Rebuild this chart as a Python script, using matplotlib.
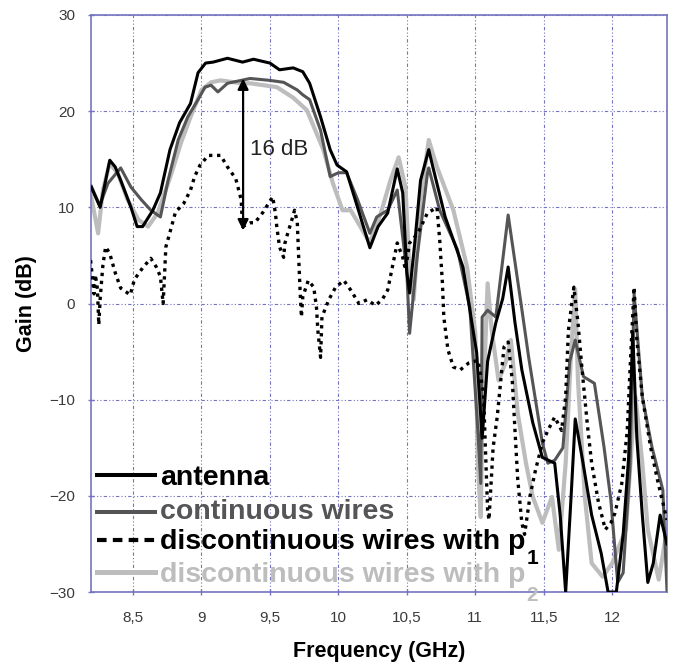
import matplotlib
matplotlib.use("Agg")
import matplotlib.pyplot as plt

plt.rcParams['font.family'] = ['Liberation Sans', 'DejaVu Sans']

# antenna alone
ant_f = [8.195, 8.26, 8.33, 8.37, 8.41, 8.485, 8.53, 8.57, 8.645, 8.70,
         8.77, 8.84, 8.92, 8.975, 9.03, 9.085, 9.19, 9.30, 9.38, 9.50,
         9.57, 9.67, 9.74, 9.79, 9.87, 9.94, 9.99, 10.06, 10.14, 10.23,
         10.29, 10.36, 10.43, 10.47, 10.50, 10.52, 10.56, 10.60, 10.66, 10.69,
         10.78, 10.91, 11.01, 11.05, 11.09, 11.15, 11.20, 11.24, 11.29, 11.34,
         11.42, 11.49, 11.58, 11.62, 11.66, 11.70, 11.73, 11.78, 11.85, 11.92,
         11.97, 12.03, 12.08, 12.12, 12.15, 12.18, 12.22, 12.26, 12.30, 12.35,
         12.40]
ant_g = [12.1, 10.0, 14.9, 14.2, 12.8, 10.0, 8.0, 8.0, 9.7, 11.5,
         16.0, 18.8, 20.8, 24.0, 25.0, 25.1, 25.5, 25.1, 25.4, 25.0,
         24.3, 24.5, 24.1, 22.9, 19.4, 16.0, 14.4, 13.7, 10.0, 5.8,
         8.0, 9.4, 14.0, 11.5, 3.2, 1.1, 6.6, 12.8, 16.0, 14.2,
         9.0, 3.8, -5.1, -14.0, -6.0, -2.0, 0.5, 3.8, -2.0, -6.9,
         -12.4, -16.0, -16.6, -22.0, -30.0, -20.0, -12.0, -16.0, -22.0, -26.0,
         -30.0, -30.0, -24.0, -16.0, -3.0, -14.0, -22.0, -29.0, -27.0, -22.0,
         -25.0]

# continuous wires
cw_f = [8.195, 8.257, 8.317, 8.41, 8.485, 8.56, 8.63, 8.70, 8.756, 8.83,
        8.90, 8.975, 9.026, 9.07, 9.12, 9.19, 9.29, 9.355, 9.50, 9.60,
        9.70, 9.74, 9.79, 9.87, 9.94, 10.0, 10.06, 10.14, 10.23, 10.28,
        10.36, 10.43, 10.50, 10.52, 10.575, 10.65, 10.66, 10.74, 10.87, 10.96,
        11.02, 11.04, 11.05, 11.09, 11.15, 11.24, 11.34, 11.39, 11.49, 11.53,
        11.58, 11.64, 11.69, 11.73, 11.79, 11.87, 11.94, 11.99, 12.04, 12.08,
        12.13, 12.16, 12.22, 12.29, 12.37, 12.40]
cw_g = [12.2, 10.2, 12.5, 14.1, 12.1, 10.8, 9.7, 9.0, 12.8, 17.0,
        19.4, 21.2, 22.5, 22.7, 22.0, 22.9, 23.2, 23.4, 23.2, 23.0,
        22.2, 21.7, 21.2, 18.0, 13.2, 13.6, 13.6, 10.8, 7.3, 9.0,
        9.7, 11.8, 3.2, -3.1, 4.8, 13.5, 14.1, 9.7, 5.6, -0.4,
        -13.5, -18.7, -1.4, -0.7, -1.4, 9.2, -0.6, -5.6, -14.5, -16.6,
        -16.3, -15.0, -6.0, -3.8, -7.6, -8.3, -14.9, -20.4, -29.0, -28.0,
        -17.0, 1.0, -9.7, -14.9, -19.4, -29.8]

# discontinuous wires with p1
p1_f = [8.19, 8.205, 8.215, 8.225, 8.24, 8.25, 8.26, 8.28, 8.30, 8.33,
        8.37, 8.41, 8.48, 8.51, 8.57, 8.63, 8.67, 8.70, 8.72, 8.74,
        8.76, 8.81, 8.87, 8.92, 8.95, 8.99, 9.05, 9.14, 9.19, 9.25,
        9.29, 9.30, 9.36, 9.39, 9.45, 9.52, 9.54, 9.55, 9.57, 9.60,
        9.61, 9.63, 9.66, 9.68, 9.70, 9.71, 9.72, 9.73, 9.74, 9.78,
        9.82, 9.84, 9.85, 9.87, 9.88, 9.93, 9.98, 10.04, 10.09, 10.15,
        10.21, 10.27, 10.32, 10.36, 10.40, 10.43, 10.47, 10.49, 10.52, 10.58,
        10.65, 10.72, 10.74, 10.76, 10.77, 10.80, 10.84, 10.89, 10.95, 11.02,
        11.06, 11.07, 11.09, 11.10, 11.13, 11.16, 11.21, 11.24, 11.27, 11.29,
        11.31, 11.34, 11.36, 11.40, 11.44, 11.49, 11.53, 11.58, 11.63, 11.66,
        11.68, 11.72, 11.75, 11.78, 11.82, 11.85, 11.90, 11.95, 11.99, 12.02,
        12.07, 12.11, 12.13, 12.16, 12.18, 12.22, 12.28, 12.33, 12.37, 12.40]
p1_g = [4.5, 2.5, 1.0, 3.0, 1.5, -2.2, 0.5, 4.0, 5.9, 5.2,
        3.2, 1.6, 0.9, 2.5, 3.7, 4.7, 3.8, 2.8, 0.0, 5.9,
        6.9, 9.5, 10.4, 11.8, 13.2, 14.4, 15.4, 15.4, 14.2, 13.0,
        10.8, 8.0, 8.4, 8.4, 9.5, 11.1, 9.4, 8.0, 5.9, 4.8,
        6.3, 7.3, 8.7, 9.7, 8.4, 4.8, 1.4, -1.4, 0.7, 2.4,
        1.7, -0.4, -2.8, -5.6, -1.4, 0.4, 1.7, 2.4, 1.4, 0.0,
        0.4, -0.2, 0.4, 1.4, 4.2, 6.3, 4.8, 3.5, 6.3, 7.3,
        9.4, 10.0, 6.6, 2.1, -1.4, -4.8, -6.6, -6.9, -6.2, -5.9,
        -9.3, -13.5, -21.5, -22.5, -15.0, -11.8, -4.5, -4.0, -8.0, -13.2,
        -18.3, -22.8, -24.0, -20.0, -17.3, -14.5, -13.2, -11.8, -13.2, -9.7,
        -2.8, 1.7, -2.0, -6.9, -12.8, -16.6, -20.7, -23.5, -22.8, -21.8,
        -18.7, -13.2, -6.9, 1.7, -3.8, -9.7, -14.9, -18.3, -20.7, -22.5]

# discontinuous wires with p2
p2_f = [8.195, 8.245, 8.28, 8.33, 8.39, 8.46, 8.54, 8.61, 8.68, 8.78,
        8.85, 8.92, 9.0, 9.07, 9.14, 9.29, 9.355, 9.55, 9.67, 9.77,
        9.89, 9.96, 10.03, 10.09, 10.16, 10.23, 10.31, 10.38, 10.44, 10.49,
        10.52, 10.55, 10.60, 10.66, 10.72, 10.84, 10.94, 11.0, 11.02, 11.04,
        11.05, 11.09, 11.12, 11.17, 11.22, 11.26, 11.31, 11.37, 11.42, 11.49,
        11.56, 11.61, 11.66, 11.70, 11.73, 11.75, 11.80, 11.85, 11.93, 12.0,
        12.10, 12.15, 12.17, 12.22, 12.26, 12.34, 12.40]
p2_g = [11.1, 7.3, 11.8, 14.6, 13.5, 10.8, 8.7, 8.0, 9.4, 13.5,
        16.7, 19.4, 22.2, 23.0, 23.2, 22.9, 22.9, 22.5, 21.4, 20.1,
        16.0, 12.5, 9.7, 9.7, 8.0, 6.3, 9.4, 12.8, 15.2, 12.1,
        3.2, 0.4, 10.8, 17.0, 14.2, 9.7, 3.8, -3.1, -17.0, -22.2,
        -13.2, 2.1, -2.8, -8.0, -6.2, -3.8, -11.4, -16.6, -20.1, -22.8,
        -20.1, -25.6, -16.6, -5.0, 1.5, -8.0, -20.1, -27.0, -28.4, -27.0,
        -23.5, -13.2, -9.7, -16.6, -23.5, -28.7, -23.5]

xticks = [8.5, 9, 9.5, 10, 10.5, 11, 11.5, 12]
xticklabels = ['8,5', '9', '9,5', '10', '10,5', '11', '11,5', '12']
yticks = [-30, -20, -10, 0, 10, 20, 30]

dark = '#555557'
light = '#bdbdbd'
frame = '#7474c0'

fig = plt.figure(figsize=(6.75, 6.66), dpi=100)
ax = fig.add_axes([0.1348, 0.111, 0.8533, 0.8665])

ax.plot(p2_f, p2_g, color=light, lw=3.0, zorder=2, solid_joinstyle='round')
ax.plot(cw_f, cw_g, color=dark, lw=2.2, zorder=3, solid_joinstyle='round')
ax.plot(ant_f, ant_g, color='black', lw=2.2, zorder=4, solid_joinstyle='round')
ax.plot(p1_f, p1_g, color='black', lw=2.4, ls=(0, (1, 1.4)), zorder=5)

ax.set_xlim(8.193, 12.40)
ax.set_ylim(-30, 30)
ax.set_xticks(xticks)
ax.set_xticklabels(xticklabels)
ax.set_yticks(yticks)
ax.tick_params(axis='both', labelsize=11, labelcolor='#3a3a3a', color=frame,
               direction='inout', length=5, width=1)
ax.tick_params(axis='x', pad=11)
ax.tick_params(axis='y', pad=9)
ax.grid(True, color=frame, lw=0.8, ls=(0, (3, 2, 1, 2, 1, 2)))
for s in ax.spines.values():
    s.set_color(frame)
    s.set_linewidth(1.2)

ax.set_xlabel('Frequency (GHz)', fontsize=15.5, fontweight='bold', labelpad=12)
ax.set_ylabel('Gain (dB)', fontsize=15.5, fontweight='bold', labelpad=9)

# 16 dB arrow
ax.annotate('', xy=(9.304, 7.6), xytext=(9.304, 23.4),
            arrowprops=dict(arrowstyle='<|-|>', color='black', lw=1.6,
                            mutation_scale=16, shrinkA=0, shrinkB=0), zorder=6)
ax.text(9.355, 16.0, '16 dB', fontsize=16, va='center', ha='left', color='#222222', zorder=6)

# hand-made legend
entries = [('antenna', 'black', 'black', '-', 2.9),
           ('continuous wires', dark, dark, '-', 2.9),
           ('discontinuous wires with p', 'black', 'black', (0, (2.3, 1.5)), 3.0),
           ('discontinuous wires with p', light, light, '-', 3.6)]
handle_y = [0.203, 0.139, 0.090, 0.035]
text_y = [0.185, 0.127, 0.075, 0.017]
label_texts = []
for (lab, lc, tc, ls, lw), hy, ty in zip(entries, handle_y, text_y):
    ax.plot([0.010, 0.111], [hy, hy], transform=ax.transAxes, color=lc, ls=ls,
            lw=lw, zorder=7, clip_on=False)
    t = ax.text(0.120, ty, lab, transform=ax.transAxes, fontsize=20.5,
                fontweight='bold', color=tc, va='baseline', ha='left', zorder=8)
    label_texts.append(t)

fig.canvas.draw()
ax.annotate('1', xy=(1, 0), xycoords=label_texts[2], xytext=(0.5, -6.5),
            textcoords='offset points', fontsize=15, fontweight='bold',
            color='black', va='baseline', ha='left', zorder=8,
            annotation_clip=False)
ax.annotate('2', xy=(1, 0), xycoords=label_texts[3], xytext=(0.5, -9.5),
            textcoords='offset points', fontsize=15, fontweight='bold',
            color=light, va='baseline', ha='left', zorder=8,
            annotation_clip=False)

fig.savefig('out.png', dpi=100)
